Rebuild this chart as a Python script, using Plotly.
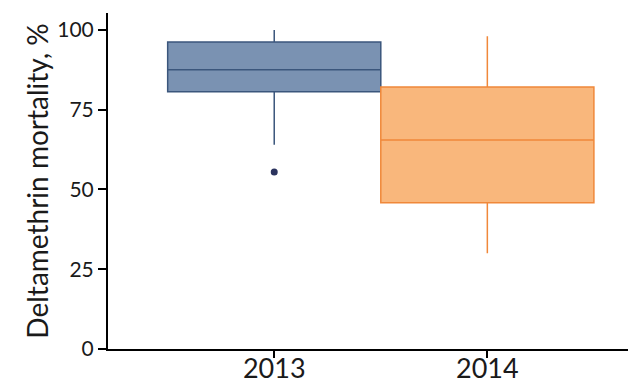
import plotly.graph_objects as go

# Deltamethrin mortality summary statistics by year
years = ["2013", "2014"]
q1_vals = [80.6, 45.8]
median_vals = [87.5, 65.5]
q3_vals = [96.2, 82.1]
lower_whisker = [64.0, 30.0]
upper_whisker = [100.0, 98.0]
outlier_years = ["2013"]
outlier_vals = [55.5]

fill_colors = ["#7a92b2", "#f9b77c"]
line_colors = ["#3b567c", "#f0883a"]

fig = go.Figure()
for i, yr in enumerate(years):
    fig.add_trace(go.Box(
        x=[yr],
        q1=[q1_vals[i]], median=[median_vals[i]], q3=[q3_vals[i]],
        lowerfence=[lower_whisker[i]], upperfence=[upper_whisker[i]],
        fillcolor=fill_colors[i],
        line=dict(color=line_colors[i], width=1.5),
        whiskerwidth=0,
        width=1.0,
        boxpoints=False,
        showlegend=False,
        hoverinfo="skip",
    ))

fig.add_trace(go.Scatter(
    x=outlier_years, y=outlier_vals, mode="markers",
    marker=dict(color="#2b335e", size=7),
    showlegend=False,
))

fig.update_layout(
    width=634, height=383,
    margin=dict(l=108, r=6, t=13, b=34),
    paper_bgcolor="white", plot_bgcolor="white",
    font=dict(family="Lato", color="#1a1a1a", size=21),
)
fig.update_xaxes(
    type="category", categoryorder="array", categoryarray=years,
    range=[-0.78, 1.66],
    showline=True, linecolor="black", linewidth=2,
    ticks="outside", ticklen=7, tickwidth=2, tickcolor="black",
    showgrid=False, zeroline=False, automargin=False,
    tickfont=dict(size=27), ticklabelstandoff=-12,
)
fig.update_yaxes(
    range=[0, 105.3],
    tickvals=[0, 25, 50, 75, 100],
    showline=True, linecolor="black", linewidth=2,
    ticks="outside", ticklen=8, tickwidth=2, tickcolor="black",
    showgrid=False, zeroline=False, automargin=False,
    tickfont=dict(size=21),
    title=dict(text="Deltamethrin mortality, %", font=dict(size=28), standoff=0),
)

fig.write_html("out.html")
